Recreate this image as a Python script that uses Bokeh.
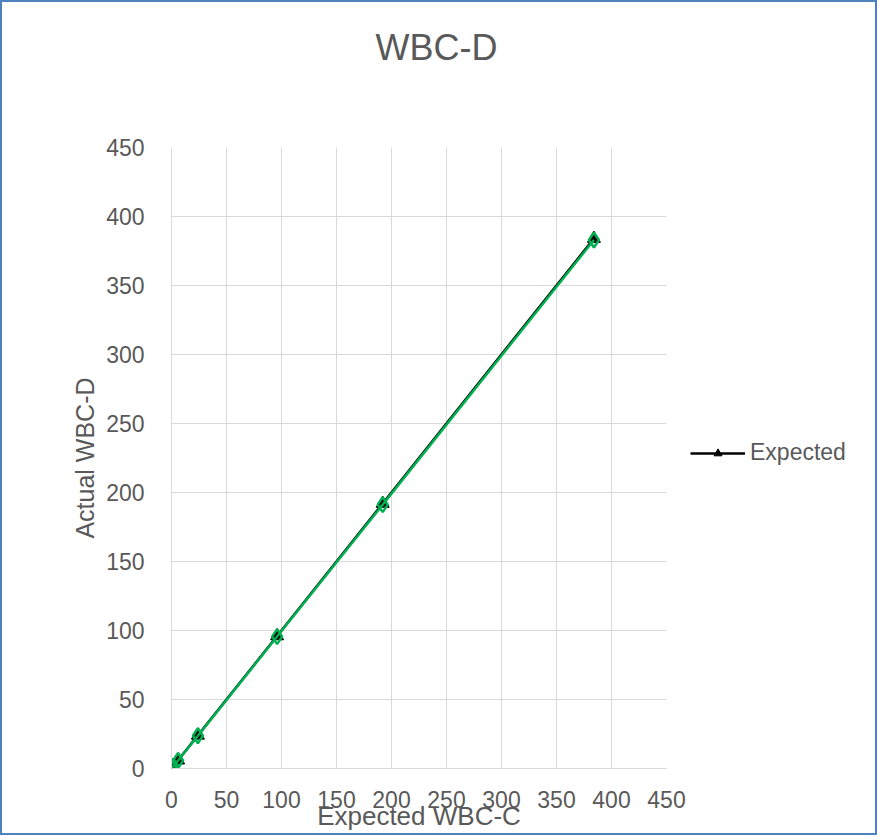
from bokeh.plotting import figure
from bokeh.layouts import row, column
from bokeh.models import Legend, LegendItem, Range1d, FixedTicker
from bokeh.embed import file_html
from bokeh.resources import INLINE

# Data
x_vals = [0, 1.5, 6, 24, 96, 192, 384]
expected = [0, 1.5, 6, 24, 96, 192, 384]
actual = [0.3, 1.6, 5.8, 23.7, 95.6, 191.2, 383.0]
tick_values = [0, 50, 100, 150, 200, 250, 300, 350, 400, 450]

TEXT = "#595959"
GRID = "#D9D9D9"
FONT = "Liberation Sans"

# Header strip carrying the chart title
header = figure(width=873, height=90, output_backend="svg", toolbar_location=None,
                x_axis_type=None, y_axis_type=None,
                min_border_left=0, min_border_right=0, min_border_top=0, min_border_bottom=0,
                background_fill_color="white", border_fill_color="white")
header.outline_line_color = None
header.title.text = "WBC-D"
header.title.align = "left"
header.title.offset = 373
header.title.text_font = FONT
header.title.text_font_size = "36px"
header.title.text_font_style = "normal"
header.title.text_color = TEXT
header.title.standoff = 44

p = figure(width=688, height=741, output_backend="svg", toolbar_location=None,
           x_range=Range1d(0, 450), y_range=Range1d(0, 450),
           min_border_left=169, min_border_right=24,
           min_border_top=55, min_border_bottom=63,
           background_fill_color="white", border_fill_color="white")
p.outline_line_color = None

for ax in (p.xaxis[0], p.yaxis[0]):
    ax.ticker = FixedTicker(ticks=tick_values)
    ax.major_tick_line_color = None
    ax.minor_tick_line_color = None
    ax.axis_line_color = GRID
    ax.major_label_text_font = FONT
    ax.major_label_text_font_size = "23px"
    ax.major_label_text_color = TEXT
    ax.axis_label_text_font = FONT
    ax.axis_label_text_font_style = "normal"
    ax.axis_label_text_color = TEXT

p.xaxis.axis_label = "Expected WBC-C"
p.yaxis.axis_label = "Actual WBC-D"
p.xaxis.axis_label_text_font_size = "26px"
p.yaxis.axis_label_text_font_size = "25px"
p.xaxis.major_label_standoff = 16
p.yaxis.major_label_standoff = 21
p.xaxis.axis_label_standoff = -10
p.yaxis.axis_label_standoff = 4

p.grid.ticker = FixedTicker(ticks=tick_values)
p.grid.grid_line_color = GRID
p.grid.grid_line_width = 1

p.line(x_vals, expected, line_color="black", line_width=2.5)
p.scatter(x_vals, expected, marker="triangle", size=13,
          fill_color="black", line_color="black")
p.line(x_vals, actual, line_color="#00B050", line_width=2.5)
p.scatter(x_vals, actual, marker="diamond", size=15, fill_color=None,
          line_color="#00B050", line_width=2.5)

# Side panel holding the legend (outside the plotting frame, as in the reference)
q = figure(width=185, height=741, output_backend="svg", toolbar_location=None,
           x_axis_type=None, y_axis_type=None,
           min_border_left=0, min_border_right=0, min_border_top=0, min_border_bottom=0,
           background_fill_color="white", border_fill_color="white")
q.outline_line_color = None
leg_line = q.line(x_vals, expected, line_color="black", line_width=2.5, visible=False)
leg_tri = q.scatter(x_vals, expected, marker="triangle", size=13,
                    fill_color="black", line_color="black", visible=False)

legend = Legend(items=[LegendItem(label="Expected", renderers=[leg_line, leg_tri])],
                location=(0, 302), padding=0, margin=0, spacing=0,
                glyph_width=55, glyph_height=20, label_standoff=5,
                border_line_color=None, background_fill_alpha=0,
                label_text_font=FONT, label_text_font_size="23px",
                label_text_color=TEXT)
q.add_layout(legend)

layout = column(header, row(p, q))
layout.styles = {"border": "2px solid #4F81BD", "background-color": "white"}

open("out.html", "w").write(file_html(layout, INLINE))
